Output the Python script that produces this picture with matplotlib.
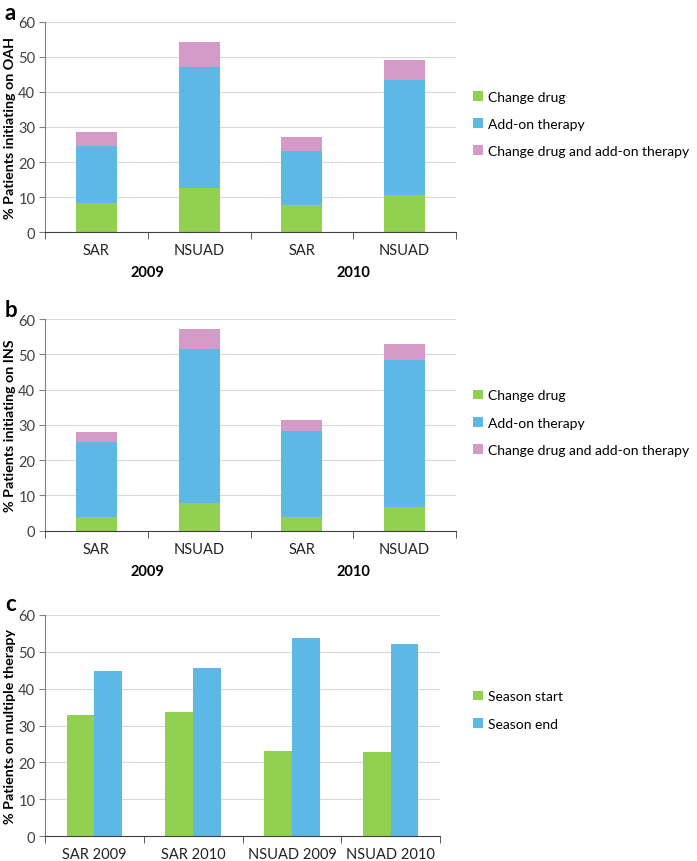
import matplotlib.pyplot as plt
import numpy as np
from matplotlib.transforms import blended_transform_factory

plt.rcParams['font.family'] = ['Lato', 'DejaVu Sans']

# Data
groups = ["SAR", "NSUAD", "SAR", "NSUAD"]
years = ["2009", "2010"]
stack_labels = ["Change drug", "Add-on therapy", "Change drug and add-on therapy"]

# panel a: OAH (cumulative tops, converted to segments)
oah_change = [8.3, 12.6, 7.9, 10.6]
oah_addon = [16.3, 34.4, 15.4, 32.9]
oah_both = [4.0, 7.1, 3.9, 5.7]

# panel b: INS
ins_change = [3.9, 7.8, 3.9, 6.7]
ins_addon = [21.3, 43.7, 24.4, 41.7]
ins_both = [2.7, 5.8, 3.1, 4.6]

# panel c: multiple therapy
c_categories = ["SAR 2009", "SAR 2010", "NSUAD 2009", "NSUAD 2010"]
season_start = [32.9, 33.6, 23.0, 22.8]
season_end = [44.8, 45.5, 53.6, 52.1]

GREEN = '#92D050'
BLUE = '#5EB8E6'
PINK = '#D49AC8'
GRID = '#D9D9D9'
SPINE = '#808080'

W, H = 697, 862
fig = plt.figure(figsize=(W / 100, H / 100), dpi=100)


def axes_px(left, top, right, bottom):
    return fig.add_axes([left / W, 1 - bottom / H, (right - left) / W, (bottom - top) / H])


def style_axes(ax, n, ylabel):
    ax.set_ylim(0, 60)
    ax.set_yticks(np.arange(0, 61, 10))
    ax.set_xlim(-0.5, n - 0.5)
    ax.grid(axis='y', color=GRID, linewidth=0.8)
    ax.set_axisbelow(True)
    for s in ['top', 'right']:
        ax.spines[s].set_visible(False)
    ax.spines['left'].set_color(SPINE)
    ax.spines['bottom'].set_color('#404040')
    ax.tick_params(axis='y', labelsize=10.5, colors='#404040', length=4, color=SPINE, pad=3)
    ax.tick_params(axis='x', which='major', length=0, labelsize=10.5, pad=8, labelcolor='#222222')
    ax.set_xticks(np.arange(-0.5, n, 1.0), minor=True)
    ax.tick_params(axis='x', which='minor', length=5, color='#404040')
    ax.set_ylabel(ylabel, fontsize=10.3, fontweight='bold')
    # keep the label at a fixed pixel spot (right edge ~16 px from the figure edge)
    ax.yaxis.set_label_coords(-29 / ax.bbox.width * fig.dpi / 100, 0.5)


def add_legend(ax, anchor):
    ax.legend(loc='center left', bbox_to_anchor=anchor, frameon=False, fontsize=10,
              borderpad=0, borderaxespad=0, handlelength=0.7, handleheight=0.7,
              handletextpad=0.4, labelspacing=1.1)


def stacked_panel(ax, change, addon, both, ylabel, letter, legend_y):
    x = np.arange(len(groups))
    ax.bar(x, change, width=0.4, color=GREEN, label=stack_labels[0])
    ax.bar(x, addon, width=0.4, bottom=change, color=BLUE, label=stack_labels[1])
    base = np.array(change) + np.array(addon)
    ax.bar(x, both, width=0.4, bottom=base, color=PINK, label=stack_labels[2])
    style_axes(ax, len(groups), ylabel)
    ax.set_xticks(x)
    ax.set_xticklabels(groups)
    tr = blended_transform_factory(ax.transData, ax.transAxes)
    for i, yr in enumerate(years):
        ax.text(2 * i + 0.5, -0.19, yr, transform=tr, ha='center', va='center',
                fontsize=10.5, fontweight='bold')
    ax.text(-0.098, 1.045, letter, transform=ax.transAxes, fontsize=16, fontweight='bold',
            ha='left', va='center')
    add_legend(ax, (1.041, legend_y))


ax_a = axes_px(45, 22.7, 456, 233.3)
stacked_panel(ax_a, oah_change, oah_addon, oah_both, "% Patients initiating on OAH", "a", 0.515)

ax_b = axes_px(45, 320, 456, 531.7)
stacked_panel(ax_b, ins_change, ins_addon, ins_both, "% Patients initiating on INS", "b", 0.51)

ax_c = axes_px(45, 615.7, 440, 837.3)
xc = np.arange(len(c_categories))
ax_c.bar(xc - 0.14, season_start, width=0.28, color=GREEN, label="Season start")
ax_c.bar(xc + 0.14, season_end, width=0.28, color=BLUE, label="Season end")
style_axes(ax_c, len(c_categories), "% Patients on multiple therapy")
ax_c.set_xticks(xc)
ax_c.set_xticklabels(c_categories)
ax_c.text(-0.1, 1.05, "c", transform=ax_c.transAxes, fontsize=16, fontweight='bold',
          ha='left', va='center')
add_legend(ax_c, (1.0835, 0.57))

fig.savefig("out.png", dpi=100)
